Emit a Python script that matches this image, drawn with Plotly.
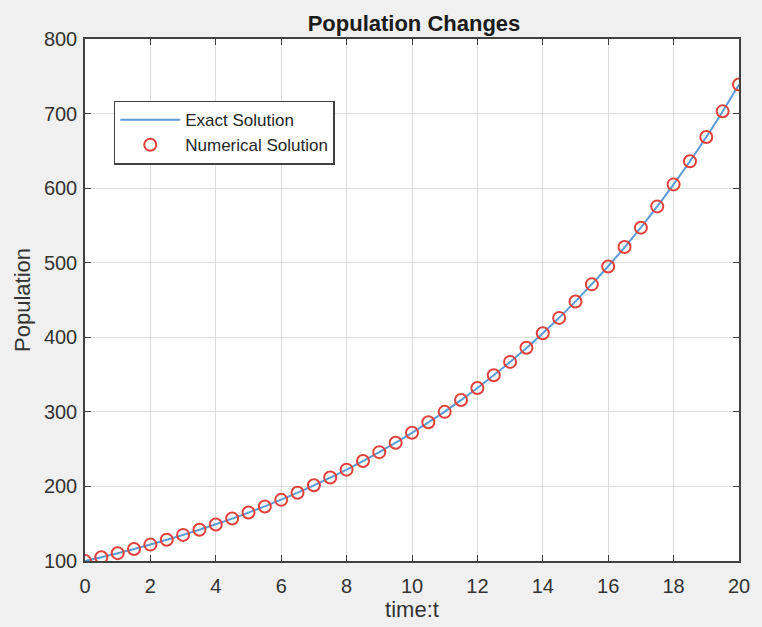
import plotly.graph_objects as go

# Time samples (step 0.5) and population values
time_t = [0, 0.5, 1, 1.5, 2, 2.5, 3, 3.5, 4, 4.5, 5, 5.5, 6, 6.5, 7, 7.5, 8, 8.5, 9, 9.5,
          10, 10.5, 11, 11.5, 12, 12.5, 13, 13.5, 14, 14.5, 15, 15.5, 16, 16.5, 17, 17.5,
          18, 18.5, 19, 19.5, 20]
exact_pop = [100, 105.1, 110.5, 116.2, 122.1, 128.4, 135.0, 141.9, 149.2, 156.8, 164.9,
             173.3, 182.2, 191.6, 201.4, 211.7, 222.6, 234.0, 246.0, 258.6, 271.8, 285.8,
             300.4, 315.8, 332.0, 349.0, 366.9, 385.7, 405.5, 426.3, 448.2, 471.2, 495.3,
             520.7, 547.4, 575.5, 605.0, 636.0, 668.6, 702.9, 738.9]
numerical_pop = [100, 105, 110.5, 116, 122, 128.5, 135, 142, 149, 157, 165, 173, 182, 191.5,
                 201.5, 212, 222.5, 234, 246, 258.5, 272, 286, 300, 316, 332, 349, 367, 386,
                 405.5, 426, 448, 471, 495, 521, 547, 575.5, 605, 636, 668.5, 703, 739]

x_ticks = [0, 2, 4, 6, 8, 10, 12, 14, 16, 18, 20]
y_ticks = [100, 200, 300, 400, 500, 600, 700, 800]

FONT = "Liberation Sans, Arial, Helvetica, sans-serif"
AXIS_COLOR = "#404040"
TEXT_COLOR = "#333333"

fig = go.Figure()
fig.add_trace(go.Scatter(
    x=time_t, y=exact_pop, mode="lines", name="Exact Solution",
    line=dict(color="#5a9bd8", width=2, shape="spline"),
))
fig.add_trace(go.Scatter(
    x=time_t, y=numerical_pop, mode="markers", name="Numerical Solution",
    marker=dict(symbol="circle-open", size=12, color="#e0413b", line=dict(width=2)),
))

axis_common = dict(
    showline=True, linecolor=AXIS_COLOR, linewidth=1.5, mirror="ticks",
    ticks="inside", ticklen=6, tickwidth=1, tickcolor=AXIS_COLOR,
    showgrid=True, gridcolor="#dedede", gridwidth=1, zeroline=False,
    tickfont=dict(family=FONT, size=20, color=TEXT_COLOR),
)

fig.update_layout(
    width=762, height=627,
    margin=dict(l=85, r=19, t=39, b=66),
    paper_bgcolor="#f0f0f0", plot_bgcolor="#ffffff",
    font=dict(family=FONT, color=TEXT_COLOR),
    title=dict(text="<b>Population Changes</b>", x=(85 + 743) / 2 / 762, xanchor="center",
               y=1 - 23 / 627, yanchor="middle", yref="container",
               font=dict(family=FONT, size=22, color="#1a1a1a")),
    xaxis=dict(axis_common, range=[0, 20], tickvals=x_ticks, ticklabelstandoff=6,
               title=dict(text="time:t", font=dict(family=FONT, size=22, color=TEXT_COLOR),
                          standoff=0)),
    yaxis=dict(axis_common, range=[100, 800], tickvals=y_ticks, ticklabelstandoff=2,
               title=dict(text="Population", font=dict(family=FONT, size=22, color=TEXT_COLOR),
                          standoff=7)),
    legend=dict(x=0.044, y=0.882, xanchor="left", yanchor="top",
                bgcolor="#ffffff", bordercolor=AXIS_COLOR, borderwidth=1.5,
                font=dict(family=FONT, size=17, color="#262626"),
                tracegroupgap=0, itemwidth=60),
    showlegend=True,
)

fig.write_html("out.html")
